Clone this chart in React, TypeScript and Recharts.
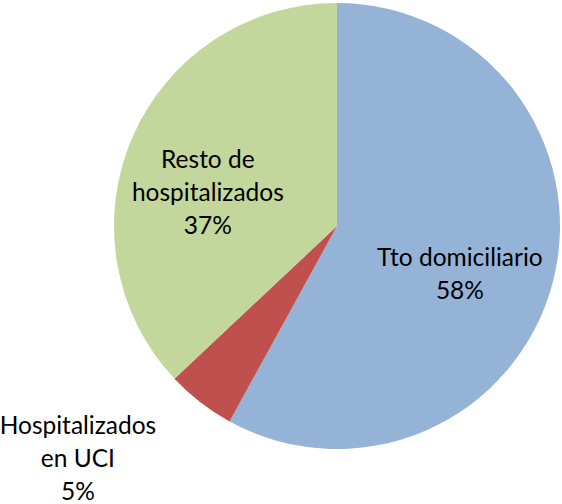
import { PieChart, Pie, Cell } from 'recharts'

const categories = ['Tto domiciliario', 'Hospitalizados en UCI', 'Resto de hospitalizados']
const shares = [58, 5, 37]
const colors = ['#95B3D7', '#C0504D', '#C3D69B']
// label lines as shown in the picture
const labelLines = [
  ['Tto domiciliario', '58%'],
  ['Hospitalizados', 'en UCI', '5%'],
  ['Resto de', 'hospitalizados', '37%'],
]
// radial distance of each label (fraction of radius) and angle nudge in degrees
const labelRadius = [0.59, 1.556, 0.6]
const labelNudge = [-6.5, -10.5, 8.2]

const data = categories.map((name, i) => ({ name, value: shares[i] }))

const RAD = Math.PI / 180
const LINE_H = 33

function renderLabel(props: any) {
  const { cx, cy, midAngle, outerRadius, index } = props
  const r = outerRadius * labelRadius[index]
  const a = midAngle + labelNudge[index]
  const x = cx + r * Math.cos(-a * RAD)
  const y = cy + r * Math.sin(-a * RAD)
  const lines = labelLines[index]
  const top = y - ((lines.length - 1) * LINE_H) / 2
  return (
    <text
      x={x}
      y={top}
      textAnchor="middle"
      dominantBaseline="central"
      fontFamily="Lato"
      fontSize={24.5}
      fill="#000"
    >
      {lines.map((l, k) => (
        <tspan key={k} x={x} y={top + k * LINE_H}>{l}</tspan>
      ))}
    </text>
  )
}

export default function App() {
  return (
    <div style={{ position: 'absolute', top: 0, left: 0, width: 562, height: 504, background: '#fff', overflow: 'hidden' }}>
      <PieChart width={562} height={504} margin={{ top: 0, right: 0, bottom: 0, left: 0 }}>
        <Pie
          data={data}
          dataKey="value"
          cx={337}
          cy={226}
          outerRadius={223}
          startAngle={90}
          endAngle={-270}
          stroke="none"
          label={renderLabel}
          labelLine={false}
          isAnimationActive={false}
        >
          {data.map((d, i) => <Cell key={d.name} fill={colors[i]} />)}
        </Pie>
      </PieChart>
    </div>
  )
}
